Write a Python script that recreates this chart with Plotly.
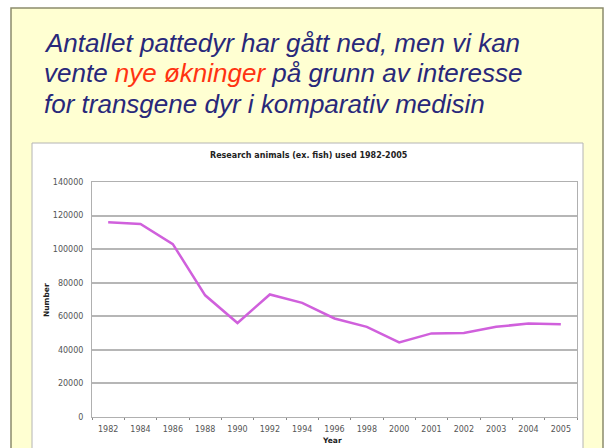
import plotly.graph_objects as go

years = ["1982", "1984", "1986", "1988", "1990", "1992", "1994", "1996", "1998",
         "2000", "2001", "2002", "2003", "2004", "2005"]
animals = [116000, 115000, 103000, 72500, 56000, 73000, 68000, 58700, 53700,
           44400, 49800, 50100, 53700, 55700, 55300]
y_ticks = [0, 20000, 40000, 60000, 80000, 100000, 120000, 140000]

W, H = 605, 448
L, R, T, B = 92, 577, 182, 417


def px(x):
    return (x - L) / (R - L)


def py(y):
    return 1 - (y - T) / (B - T)


fig = go.Figure()
fig.add_trace(go.Scatter(x=years, y=animals, mode="lines",
                         line=dict(color="#D060DC", width=2.5), hoverinfo="x+y"))

shapes = [
    dict(type="rect", xref="paper", yref="paper", x0=px(11), x1=px(603), y0=py(8), y1=py(470),
         fillcolor="#FFFFD2", line=dict(color="#8C8C6C", width=1.5), layer="below"),
    dict(type="rect", xref="paper", yref="paper", x0=px(32), x1=px(583), y0=py(143), y1=py(470),
         fillcolor="#FFFFFF", line=dict(color="#B4B4B4", width=1), layer="below"),
]

title_color = "#28287A"
font_t = "Liberation Sans, Arial, sans-serif"
annotations = [
    dict(text="<i>Antallet pattedyr har gått ned, men vi kan</i>", x=px(42), y=py(43)),
    dict(text="<i>vente <span style='color:#FF3311'>nye økninger</span> på grunn av interesse</i>",
         x=px(42), y=py(73)),
    dict(text="<i>for transgene dyr i komparativ medisin</i>", x=px(42), y=py(104)),
]
for a in annotations:
    a.update(xref="paper", yref="paper", xanchor="left", yanchor="middle", showarrow=False,
             font=dict(family=font_t, size=26, color=title_color))

small = "DejaVu Sans, Verdana, sans-serif"
annotations += [
    dict(text="<b>Research animals (ex. fish) used 1982-2005</b>", x=px(309), y=py(155),
         xref="paper", yref="paper", xanchor="center", yanchor="middle", showarrow=False,
         font=dict(family=small, size=8, color="#222222")),
    dict(text="<b>Number</b>", x=px(46), y=py(300), textangle=-90,
         xref="paper", yref="paper", xanchor="center", yanchor="middle", showarrow=False,
         font=dict(family=small, size=7.5, color="#222222")),
    dict(text="<b>Year</b>", x=px(332), y=py(440),
         xref="paper", yref="paper", xanchor="center", yanchor="middle", showarrow=False,
         font=dict(family=small, size=7.5, color="#222222")),
]

fig.update_layout(
    width=W, height=H,
    margin=dict(l=L, r=W - R, t=T, b=H - B, pad=0),
    paper_bgcolor="#FFFFFF",
    plot_bgcolor="#D6D6D6",
    showlegend=False,
    shapes=shapes,
    annotations=annotations,
    xaxis=dict(type="category", range=[-0.5, len(years) - 0.5], showgrid=False, zeroline=False,
               showline=True, linecolor="#B0B0B0", linewidth=1, mirror=True,
               ticks="outside", tickson="boundaries", ticklen=2, tickcolor="#888888",
               tickfont=dict(family=small, size=8, color="#555555"), ticklabelstandoff=4),
    yaxis=dict(range=[0, 140000], tickvals=y_ticks, ticktext=[str(v) for v in y_ticks],
               showgrid=True, gridcolor="#B6B6B6", gridwidth=2, zeroline=False,
               showline=True, linecolor="#B0B0B0", linewidth=1, mirror=True,
               ticks="", tickfont=dict(family=small, size=8, color="#555555"),
               ticklabelstandoff=6),
)

fig.write_html("out.html", config={"displayModeBar": False},
               post_script="document.body.style.margin='0';document.body.style.overflow='hidden';")
